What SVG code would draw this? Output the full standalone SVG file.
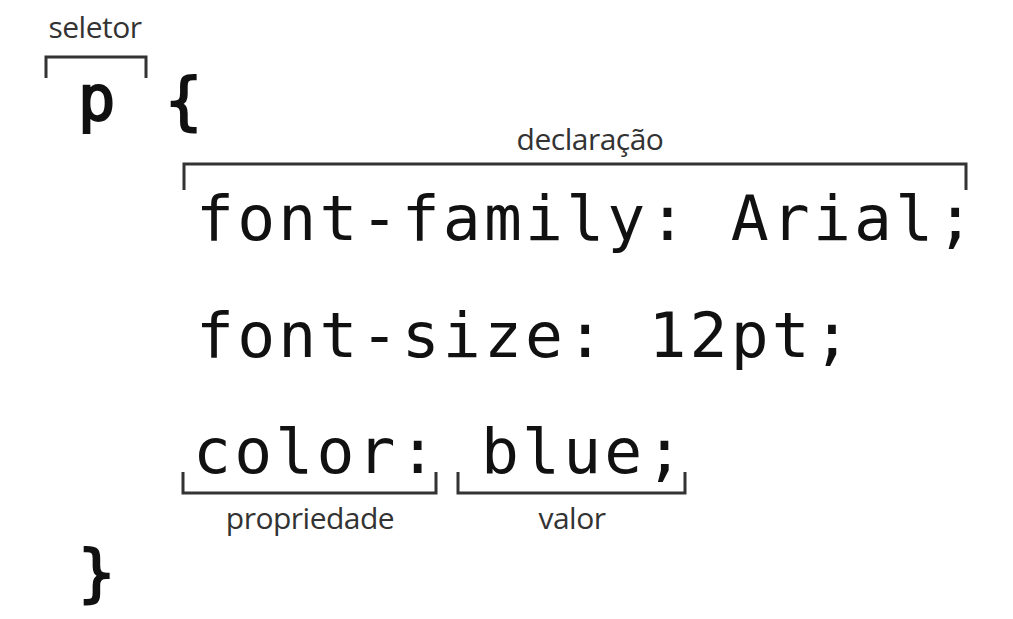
<svg xmlns="http://www.w3.org/2000/svg" width="1013" height="619" viewBox="0 0 1013 619">
<style>
.code{font-family:"DejaVu Sans Mono","Liberation Mono",monospace;font-size:63px;fill:#111;letter-spacing:3.2px}
.sym{font-family:"DejaVu Sans Mono","Liberation Mono",monospace;font-size:62px;fill:#111;stroke:#111;stroke-width:2}
.lbl{font-family:"Open Sans","Noto Sans",sans-serif;font-size:30px;fill:#333;text-anchor:middle;letter-spacing:-0.5px}
.br{fill:none;stroke:#333;stroke-width:3}
</style>
<rect width="1013" height="619" fill="#fff"/>
<g id="selector">
<text class="lbl" x="95" y="38">seletor</text>
<path class="br" d="M46,78 V57 H146 V78"/>
<text class="sym" x="78" y="120">p</text>
<text class="sym" x="165" y="122">{</text>
</g>
<g id="declaracao">
<text class="lbl" x="590" y="150">declaração</text>
<path class="br" d="M184,190 V164 H966 V190"/>
<text class="code" x="196" y="240">font-family: Arial;</text>
</g>
<g id="font-size">
<text class="code" x="196" y="357">font-size: 12pt;</text>
</g>
<g id="color">
<text class="code" x="193" y="473">color: blue;</text>
</g>
<g id="propriedade">
<path class="br" d="M183,472 V493 H436 V472"/>
<text class="lbl" x="310" y="529">propriedade</text>
</g>
<g id="valor">
<path class="br" d="M458,472 V493 H685 V472"/>
<text class="lbl" x="572" y="529">valor</text>
</g>
<g id="close">
<text class="sym" x="78" y="594">}</text>
</g>
<g id="connectors"></g>
</svg>
